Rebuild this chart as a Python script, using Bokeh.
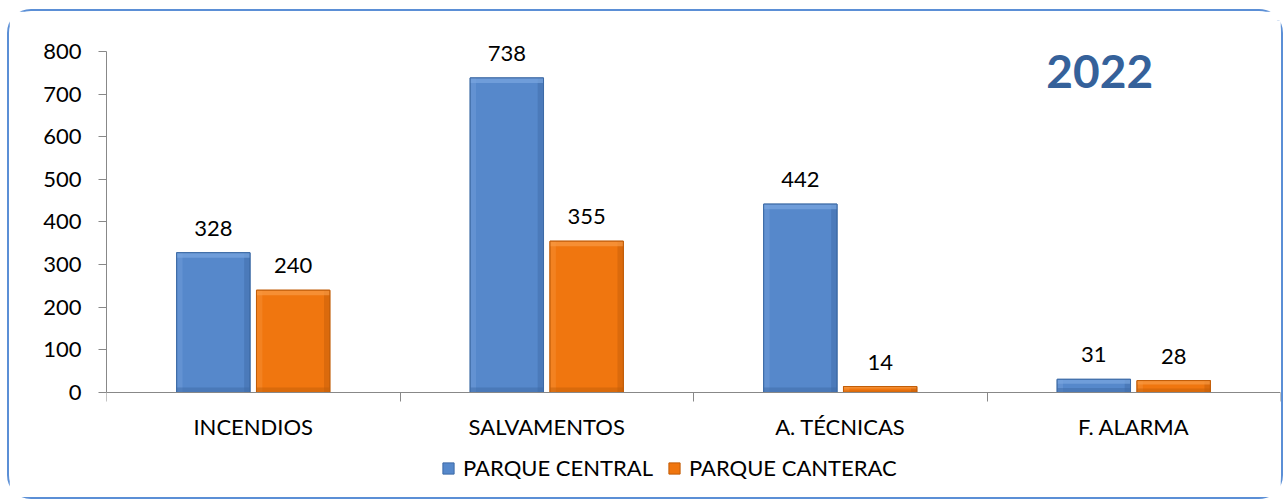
from bokeh.plotting import figure
from bokeh.models import (ColumnDataSource, Range1d, FixedTicker, Legend, LegendItem,
                          LabelSet, Label)
from bokeh.core.properties import value
from bokeh.embed import file_html
from bokeh.resources import INLINE

categories = ["INCENDIOS", "SALVAMENTOS", "A. TÉCNICAS", "F. ALARMA"]
central = [328, 738, 442, 31]
canterac = [240, 355, 14, 28]
series_names = ["PARQUE CENTRAL", "PARQUE CANTERAC"]
y_ticks = [0, 100, 200, 300, 400, 500, 600, 700, 800]
title_text = "2022"

FONT = "Lato"
FS = "22px"
BLUE = "#5688cb"
BLUE_LIGHT = "#7aa7e0"
BLUE_DARK = "#3d6aa6"
ORANGE = "#f0760f"
ORANGE_LIGHT = "#f89a45"
ORANGE_DARK = "#c25d08"

# frame spans extra room above 800 and below 0 so labels/legend live inside it
Y_MAX = 872.7
Y_MIN = -246.3

p = figure(frame_width=1174, frame_height=477, output_backend="svg", toolbar_location=None,
           x_range=Range1d(0, len(categories)), y_range=Range1d(Y_MIN, Y_MAX),
           min_border_left=97, min_border_right=1, min_border_top=9,
           min_border_bottom=0)
p.outline_line_color = None
p.xgrid.grid_line_color = None
p.ygrid.grid_line_color = None
p.styles = {"border": "2px solid #5b8fd6", "border-radius": "24px",
            "margin-left": "7px", "margin-top": "9px"}

off = 0.136
w = 0.25
bev_x = 0.02
bev_y = 12

def bar_source(vals, sign):
    xs = [i + 0.5 + sign * off for i in range(len(vals))]
    left = [x - w / 2 for x in xs]
    right = [x + w / 2 for x in xs]
    b = [min(bev_y, v / 3) for v in vals]
    return ColumnDataSource(dict(
        x=xs, top=vals, left=left, right=right,
        hl_bottom=[v - bb for v, bb in zip(vals, b)],
        sh_top=b, zero=[0] * len(vals),
        rl=[r - bev_x for r in right],
        lr=[l + bev_x for l in left],
        label=[str(v) for v in vals]))

src_c = bar_source(central, -1)
src_o = bar_source(canterac, +1)

renderers = []
for src, base, light, dark in [(src_c, BLUE, BLUE_LIGHT, BLUE_DARK),
                               (src_o, ORANGE, ORANGE_LIGHT, ORANGE_DARK)]:
    r = p.vbar(x="x", top="top", width=w, source=src, fill_color=base,
               line_color=dark, line_width=1)
    renderers.append(r)
    p.quad(left="left", right="lr", bottom="zero", top="top", source=src,
           fill_color=light, fill_alpha=0.35, line_color=None)
    p.quad(left="rl", right="right", bottom="zero", top="top", source=src,
           fill_color=dark, fill_alpha=0.45, line_color=None)
    p.quad(left="left", right="right", bottom="hl_bottom", top="top", source=src,
           fill_color=light, fill_alpha=0.7, line_color=None)
    p.quad(left="left", right="right", bottom="zero", top="sh_top", source=src,
           fill_color=dark, fill_alpha=0.5, line_color=None)
    p.vbar(x="x", top="top", width=w, source=src, fill_color=None,
           line_color=dark, line_width=1)
    p.add_layout(LabelSet(x="x", y="top", text="label", source=src,
                          text_align="center", text_baseline="bottom", y_offset=17,
                          text_font=value(FONT), text_font_size=value(FS),
                          text_color="#000000"))

xt = FixedTicker(ticks=[i + 0.5 for i in range(len(categories))],
                 minor_ticks=list(range(len(categories) + 1)))
p.xaxis.fixed_location = 0
p.xaxis.ticker = xt
p.xaxis.major_label_overrides = {i + 0.5: c for i, c in enumerate(categories)}
p.xaxis.major_tick_out = 0
p.xaxis.major_tick_in = 0
p.xaxis.minor_tick_out = 9
p.xaxis.minor_tick_in = 0
p.xaxis.minor_tick_line_color = "#888888"
p.xaxis.axis_line_color = "#888888"
p.xaxis.major_label_standoff = 11
p.xaxis.major_label_text_font = FONT
p.xaxis.major_label_text_font_size = FS
p.xaxis.major_label_text_color = "#000000"

p.yaxis.ticker = FixedTicker(ticks=y_ticks, minor_ticks=[])
p.yaxis.bounds = (0, 800)
p.yaxis.major_tick_out = 8
p.yaxis.major_tick_in = 0
p.yaxis.major_tick_line_color = "#888888"
p.yaxis.axis_line_color = "#888888"
p.yaxis.minor_tick_line_color = None
p.yaxis.major_label_standoff = 17
p.yaxis.major_label_text_font = FONT
p.yaxis.major_label_text_font_size = FS
p.yaxis.major_label_text_color = "#000000"

p.add_layout(Label(x=3.384, y=752, text=title_text, text_align="center",
                   text_baseline="middle", text_font=FONT, text_font_size="46px",
                   text_font_style="bold", text_color="#35619a"))

legend = Legend(items=[LegendItem(label=series_names[0], renderers=[renderers[0]]),
                       LegendItem(label=series_names[1], renderers=[renderers[1]])],
                orientation="horizontal", location=(335, 16),
                label_text_font=FONT, label_text_font_size=FS,
                label_text_color="#000000", glyph_width=14, glyph_height=14,
                label_standoff=8, spacing=14, border_line_color=None,
                background_fill_alpha=0, padding=2, margin=0)
p.add_layout(legend, "center")

open("out.html", "w").write(file_html(p, INLINE))
